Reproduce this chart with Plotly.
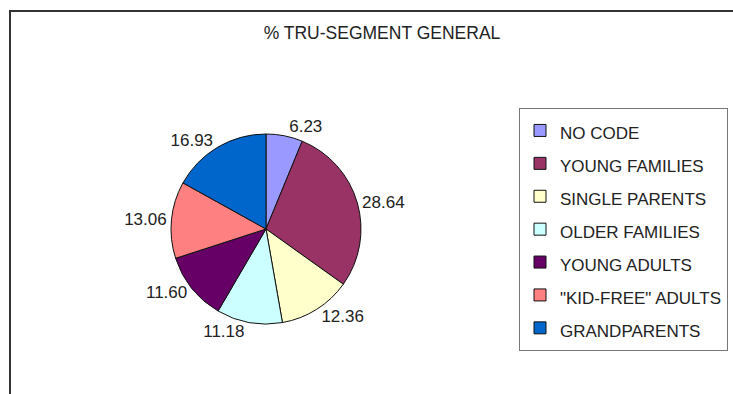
import plotly.graph_objects as go

# Data
segments = ["NO CODE", "YOUNG FAMILIES", "SINGLE PARENTS", "OLDER FAMILIES",
            "YOUNG ADULTS", "\"KID-FREE\" ADULTS", "GRANDPARENTS"]
shares = [6.23, 28.64, 12.36, 11.18, 11.60, 13.06, 16.93]
slice_colors = ["#9999FF", "#993366", "#FFFFCC", "#CCFFFF",
                "#660066", "#FF8080", "#0066CC"]
chart_title = "% TRU-SEGMENT GENERAL"

W, H = 733, 394
FONT = "Liberation Sans, Arial, sans-serif"

# legend label text in a smaller span so that the legend rows keep a taller pitch
legend_labels = ['<span style="font-size:17px">%s</span>' % s for s in segments]

# pie geometry (pixels) -> paper domain
cx, cy, r = 266, 229, 95
dom_x = [(cx - r) / W, (cx + r) / W]
dom_y = [(H - cy - r) / H, (H - cy + r) / H]

fig = go.Figure(go.Pie(
    labels=legend_labels,
    values=shares,
    sort=False,
    direction="clockwise",
    rotation=0,
    marker=dict(colors=slice_colors, line=dict(color="#111111", width=1)),
    texttemplate="%{value:.2f}",
    textposition="outside",
    outsidetextfont=dict(family=FONT, size=17, color="#222222"),
    domain=dict(x=dom_x, y=dom_y),
    hoverinfo="skip",
))

fig.update_layout(
    width=W, height=H,
    margin=dict(l=0, r=0, t=0, b=0, autoexpand=False),
    paper_bgcolor="white",
    plot_bgcolor="white",
    font=dict(family=FONT, color="#222222"),
    title=dict(text=chart_title, x=382 / W, xanchor="center",
               y=1 - 33 / H, yanchor="middle",
               font=dict(family=FONT, size=17.5, color="#222222")),
    showlegend=True,
    legend=dict(
        x=519 / W, xanchor="left",
        y=1 - 108 / H, yanchor="top",
        bgcolor="white",
        bordercolor="#777777", borderwidth=1,
        font=dict(family=FONT, size=23, color="#222222"),
        itemclick=False, itemdoubleclick=False,
    ),
    shapes=[dict(type="rect", xref="paper", yref="paper",
                 x0=10 / W, x1=1.05, y0=-0.05, y1=1 - 11 / H,
                 line=dict(color="#333333", width=2), layer="below")],
)

fig.write_html("out.html",
               config={"displayModeBar": False},
               post_script="document.body.style.margin='0';document.body.style.overflow='hidden';")
